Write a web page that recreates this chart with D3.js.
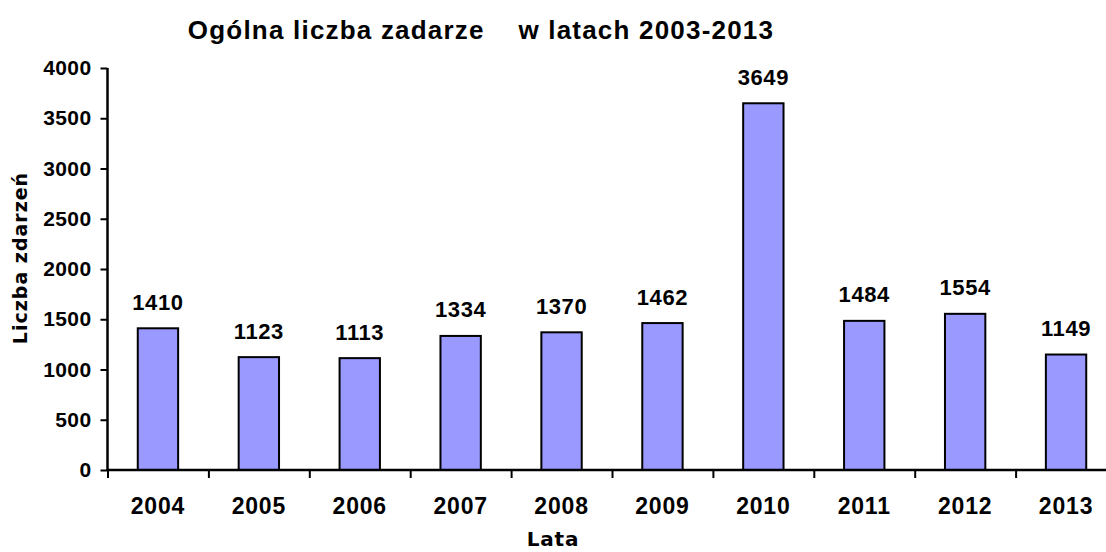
<!DOCTYPE html>
<html>
<head>
<meta charset="utf-8">
<script src="https://cdn.jsdelivr.net/npm/d3@7"></script>
<style>
  body { margin: 0; background: #fff; }
  text { font-family: "Liberation Sans", Arial, sans-serif; font-weight: bold; fill: #000; }
</style>
</head>
<body>
<svg width="1106" height="552"></svg>
<script>
const years = ["2004", "2005", "2006", "2007", "2008", "2009", "2010", "2011", "2012", "2013"]
const counts = [1410, 1123, 1113, 1334, 1370, 1462, 3649, 1484, 1554, 1149]
const yTicks = [0, 500, 1000, 1500, 2000, 2500, 3000, 3500, 4000]

const svg = d3.select("svg")
const plotLeft = 107.5, plotRight = 1116.5, plotTop = 68, plotBottom = 470

let x = d3.scaleBand().domain(years).range([plotLeft, plotRight]).paddingInner(0.6).paddingOuter(0.3)
let y = d3.scaleLinear().domain([0, 4000]).range([plotBottom, plotTop])

// title
svg.append("text")
   .attr("x", 481).attr("y", 39)
   .attr("text-anchor", "middle")
   .style("font-size", "26px")
   .style("letter-spacing", "1.2px")
   .style("white-space", "pre")
   .text("Ogólna liczba zadarze    w latach 2003-2013")

// bars
svg.selectAll("rect.bar")
   .data(counts)
   .join("rect")
   .attr("class", "bar")
   .attr("x", (d, i) => x(years[i]))
   .attr("y", d => y(d))
   .attr("width", x.bandwidth())
   .attr("height", d => plotBottom - y(d))
   .attr("fill", "#9999ff")
   .attr("stroke", "#000")
   .attr("stroke-width", 2)

// value labels
svg.selectAll("text.val")
   .data(counts)
   .join("text")
   .attr("class", "val")
   .attr("x", (d, i) => x(years[i]) + x.bandwidth() / 2)
   .attr("y", d => y(d) - 18.5)
   .attr("text-anchor", "middle")
   .style("font-size", "22px")
   .style("letter-spacing", "0.6px")
   .text(d => d)

// y axis
let yAxis = svg.append("g")
   .attr("transform", `translate(${plotLeft},0)`)
   .call(d3.axisLeft(y).tickValues(yTicks).tickSize(7).tickPadding(9).tickFormat(d3.format("d")))
yAxis.select(".domain").attr("stroke-width", 2.5).attr("d", `M0,${plotTop}V${plotBottom}`)
yAxis.selectAll(".tick line").attr("stroke-width", 2)
yAxis.selectAll(".tick text").style("font-size", "21px").style("letter-spacing", "0.4px").attr("font-family", null)

// x axis: line + ticks between categories
let xb = d3.scaleLinear().domain([0, 10]).range([plotLeft, plotRight])
let xAxis = svg.append("g")
   .attr("transform", `translate(0,${plotBottom})`)
   .call(d3.axisBottom(xb).ticks(10).tickSize(8).tickFormat(""))
xAxis.select(".domain").attr("stroke-width", 2.5).attr("d", `M${plotLeft},0H${plotRight}`)
xAxis.selectAll(".tick line").attr("stroke-width", 2)

svg.selectAll("text.cat")
   .data(years)
   .join("text")
   .attr("class", "cat")
   .attr("x", d => x(d) + x.bandwidth() / 2)
   .attr("y", 514)
   .attr("text-anchor", "middle")
   .style("font-size", "23px")
   .style("letter-spacing", "0.8px")
   .text(d => d)

// axis titles
svg.append("text")
   .attr("x", 553).attr("y", 546)
   .attr("text-anchor", "middle")
   .style("font-family", "'DejaVu Sans', Verdana, sans-serif")
   .style("font-size", "20px")
   .style("letter-spacing", "0.8px")
   .text("Lata")

svg.append("text")
   .attr("transform", "translate(27,258) rotate(-90)")
   .attr("text-anchor", "middle")
   .style("font-family", "'DejaVu Sans', Verdana, sans-serif")
   .style("font-size", "19px")
   .style("letter-spacing", "1px")
   .text("Liczba zdarzeń")
</script>
</body>
</html>
